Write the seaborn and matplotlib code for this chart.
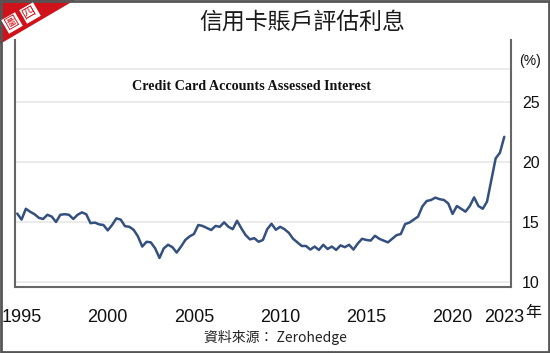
import seaborn as sns
import pandas as pd
import numpy as np
import matplotlib.pyplot as plt
from matplotlib.patches import Polygon, Rectangle

# quarterly assessed interest rate (%), 1994Q4 - 2023Q1
rate = [15.7, 15.2, 16.1, 15.85, 15.65, 15.35, 15.25, 15.6, 15.45, 15.0,
        15.6, 15.65, 15.6, 15.25, 15.6, 15.8, 15.65, 14.9, 14.95, 14.8,
        14.75, 14.3, 14.75, 15.3, 15.2, 14.65, 14.6, 14.35, 13.8, 12.95,
        13.35, 13.3, 12.8, 12.0, 12.8, 13.1, 12.9, 12.45, 12.95, 13.5,
        13.8, 14.0, 14.75, 14.67, 14.5, 14.33, 14.67, 14.6, 14.97, 14.6,
        14.4, 15.1, 14.47, 13.9, 13.55, 13.65, 13.35, 13.5, 14.4, 14.85,
        14.35, 14.6, 14.4, 14.1, 13.6, 13.3, 13.0, 13.0, 12.7, 12.95,
        12.67, 13.1, 12.75, 12.95, 12.67, 13.05, 12.9, 13.1, 12.7, 13.2,
        13.6, 13.5, 13.45, 13.85, 13.6, 13.45, 13.3, 13.6, 13.9, 14.0,
        14.83, 14.95, 15.2, 15.45, 16.3, 16.75, 16.83, 17.03, 16.9, 16.83,
        16.55, 15.67, 16.33, 16.1, 15.86, 16.33, 17.05, 16.33, 16.1, 16.7,
        18.5, 20.3, 20.78, 22.1]
first_quarter = '1994Q4'
x_ticks = [1995, 2000, 2005, 2010, 2015, 2020, 2023]
y_ticks = [10, 15, 20, 25]

title = '信用卡賬戶評估利息'
subtitle = 'Credit Card Accounts Assessed Interest'
source = '資料來源： Zerohedge'

q = pd.period_range(first_quarter, periods=len(rate), freq='Q')
df = pd.DataFrame({'year': q.year + (q.quarter - 1) / 4, 'rate': rate})

sns.set_theme(style='white')
plt.rcParams['font.family'] = ['Liberation Sans', 'Noto Sans CJK TC', 'DejaVu Sans']

fig = plt.figure(figsize=(5.5, 3.53), dpi=100)
ax = fig.add_axes([15 / 550, 66 / 353, 496 / 550, 247 / 353])

for y in y_ticks + [27.75]:
    ax.axhline(y, color='#e8e8e8', lw=1.2, zorder=0)

sns.lineplot(data=df, x='year', y='rate', ax=ax, color='#34507f', lw=1.8)

ax.set_xlim(1994.62, 2023.39)
ax.set_ylim(9.58, 30.17)
ax.set_xlabel('')
ax.set_ylabel('')

ax.set_xticks(x_ticks)
ax.set_xticklabels([str(x) for x in x_ticks], fontsize=13, color='#111111')
ax.yaxis.tick_right()
ax.set_yticks(y_ticks)
ax.set_yticklabels([str(y) for y in y_ticks], fontsize=11.5, color='#111111')
ax.tick_params(axis='x', length=0, pad=16)
ax.tick_params(axis='y', length=0, pad=8)

for side in ['left', 'bottom', 'right']:
    ax.spines[side].set_color('#666666')
    ax.spines[side].set_linewidth(1.5)
ax.spines['top'].set_visible(False)

fig.text(530 / 550, 1 - 61 / 353, '(%)', fontsize=10,
         ha='center', va='center', color='#111111')
fig.text(533 / 550, 1 - 312 / 353, '年', fontsize=11.5,
         ha='center', va='center', color='#111111',
         family=['Noto Sans CJK TC'])

fig.text(302 / 550, 1 - 22 / 353, title, fontsize=16.5, ha='center',
         va='center', color='#1a1a1a', family=['Noto Sans CJK TC'])
fig.text(251 / 550, 1 - 86 / 353, subtitle, fontsize=10.2, fontweight='bold',
         family=['Liberation Serif'], ha='center', va='center',
         color='#111111')
fig.text(275 / 550, 1 - 337 / 353, source, fontsize=10, ha='center',
         va='center', color='#222222',
         family=['Noto Sans CJK TC', 'Liberation Sans'])

# corner badge
tri = Polygon([[0, 1], [75 / 550, 1], [0, 1 - 44 / 353]], closed=True,
              transform=fig.transFigure, facecolor='#d0121b', edgecolor='none')
fig.patches.append(tri)
for ch, px, py in [('圖', 12, 23), ('四', 30, 13)]:
    fig.text(px / 550, 1 - py / 353, ch, fontsize=9.5, rotation=30,
             ha='center', va='center', color='#d0121b',
             family=['Noto Sans CJK TC'],
             bbox=dict(boxstyle='square,pad=0.1', facecolor='white',
                       edgecolor='none'))

frame = Rectangle((0.002, 0.003), 0.996, 0.994, transform=fig.transFigure,
                  fill=False, edgecolor='#555555', lw=2)
fig.patches.append(frame)

fig.savefig('out.png', dpi=100)
